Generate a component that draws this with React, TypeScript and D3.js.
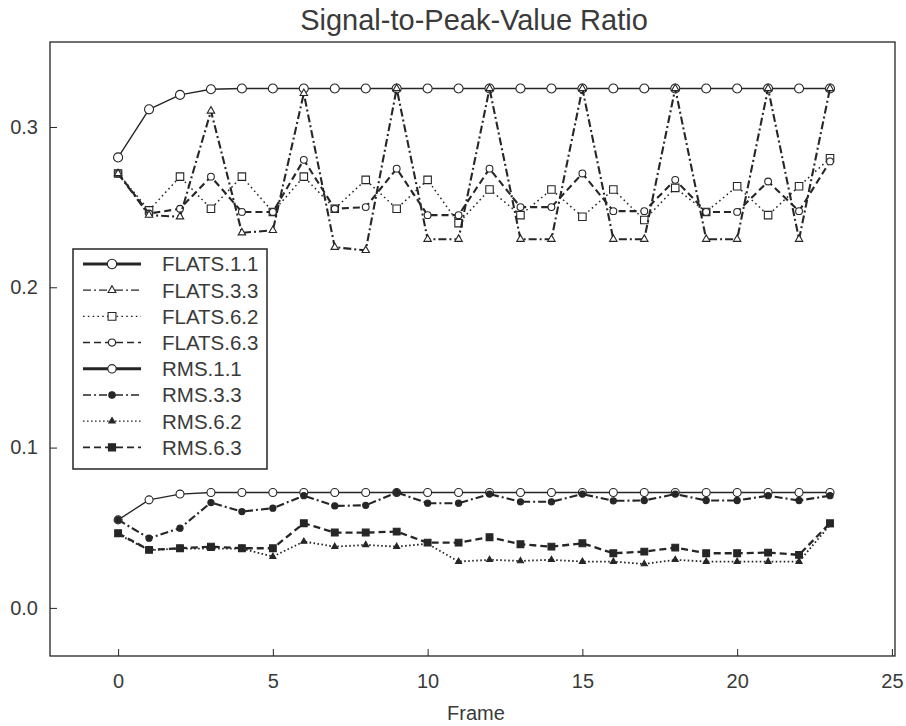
import React, { useRef, useEffect } from "react";
import * as d3 from "d3";

// values
const frames = [0, 1, 2, 3, 4, 5, 6, 7, 8, 9, 10, 11, 12, 13, 14, 15, 16, 17, 18, 19, 20, 21, 22, 23];

const flats11 = [0.281, 0.311, 0.32, 0.3235, 0.324, 0.324, 0.324, 0.324, 0.324, 0.324, 0.324, 0.324, 0.324, 0.324, 0.324, 0.324, 0.324, 0.324, 0.324, 0.324, 0.324, 0.324, 0.324, 0.324];
const flats33 = [0.271, 0.245, 0.244, 0.31, 0.234, 0.2355, 0.321, 0.225, 0.223, 0.324, 0.23, 0.23, 0.324, 0.23, 0.23, 0.324, 0.23, 0.23, 0.324, 0.23, 0.23, 0.324, 0.23, 0.324];
const flats62 = [0.271, 0.248, 0.269, 0.249, 0.269, 0.247, 0.269, 0.249, 0.267, 0.249, 0.267, 0.24, 0.261, 0.245, 0.261, 0.244, 0.261, 0.242, 0.262, 0.247, 0.263, 0.245, 0.263, 0.2805];
const flats63 = [0.271, 0.246, 0.249, 0.269, 0.247, 0.247, 0.2795, 0.249, 0.25, 0.274, 0.245, 0.245, 0.274, 0.25, 0.25, 0.271, 0.2475, 0.2475, 0.267, 0.247, 0.247, 0.266, 0.2475, 0.2785];

const rms11 = [0.0549, 0.0674, 0.071, 0.072, 0.072, 0.072, 0.072, 0.072, 0.072, 0.072, 0.072, 0.072, 0.072, 0.072, 0.072, 0.072, 0.072, 0.072, 0.072, 0.072, 0.072, 0.072, 0.072, 0.072];
const rms33 = [0.0549, 0.0435, 0.0497, 0.0657, 0.0601, 0.0622, 0.07, 0.0636, 0.064, 0.072, 0.0653, 0.0653, 0.071, 0.0662, 0.0662, 0.071, 0.0668, 0.067, 0.071, 0.067, 0.067, 0.07, 0.067, 0.07];
const rms62 = [0.046, 0.036, 0.037, 0.037, 0.037, 0.032, 0.0414, 0.0382, 0.0393, 0.0382, 0.04, 0.0289, 0.03, 0.0293, 0.03, 0.0289, 0.0289, 0.0274, 0.03, 0.0289, 0.0289, 0.0289, 0.0289, 0.0518];
const rms63 = [0.0466, 0.0362, 0.0372, 0.0382, 0.0372, 0.0372, 0.0528, 0.047, 0.047, 0.0476, 0.0407, 0.0407, 0.0441, 0.0397, 0.0382, 0.0403, 0.0341, 0.0351, 0.0376, 0.0341, 0.0341, 0.0345, 0.0331, 0.0528];

const seriesNames = ["FLATS.1.1", "FLATS.3.3", "FLATS.6.2", "FLATS.6.3", "RMS.1.1", "RMS.3.3", "RMS.6.2", "RMS.6.3"];
const seriesValues = [flats11, flats33, flats62, flats63, rms11, rms33, rms62, rms63];

const xTicks = [0, 5, 10, 15, 20, 25];
const yTicks = [0.0, 0.1, 0.2, 0.3];

const INK = "#262626";
const TEXT = "#3a3a3a";
const FONT = "'Liberation Sans', Arial, Helvetica, sans-serif";

// line / marker look for each series (same order as seriesNames)
const looks = [
  { dash: null, width: 1.4, legendWidth: 3, shape: d3.symbolCircle, size: 64, fill: "#fff" },
  { dash: "8,3,2,3", width: 2.1, legendWidth: 1.3, shape: d3.symbolTriangle, size: 24, fill: "#fff" },
  { dash: "1.6,3.2", width: 1.5, legendWidth: 1.2, shape: d3.symbolSquare, size: 56, fill: "#fff" },
  { dash: "7,4", width: 2.1, legendWidth: 1.5, shape: d3.symbolCircle, size: 36, fill: "#fff" },
  { dash: null, width: 1.3, legendWidth: 3, shape: d3.symbolCircle, size: 50, fill: "#fff" },
  { dash: "8,3,2,3", width: 2.1, legendWidth: 1.3, shape: d3.symbolCircle, size: 30, fill: INK },
  { dash: "1.6,2.4", width: 1.8, legendWidth: 1.2, shape: d3.symbolTriangle, size: 16, fill: INK },
  { dash: "7,4", width: 2.3, legendWidth: 1.6, shape: d3.symbolSquare, size: 46, fill: INK },
];

// drawing order: the solid reference lines first, the rest on top
const drawOrder = [0, 2, 3, 1, 4, 6, 7, 5];

export default function App() {
  const svgRef = useRef(null);

  useEffect(() => {
    const svg = d3.select(svgRef.current);
    svg.selectAll("*").remove();

    const x = d3.scaleLinear().domain([-2.2, 25.1]).range([50, 895]);
    const y = d3.scaleLinear().domain([-0.03, 0.353]).range([656, 42]);

    svg.append("rect").attr("width", 906).attr("height", 726).attr("fill", "#fff");

    // title
    svg.append("text")
      .attr("x", 474).attr("y", 30)
      .attr("text-anchor", "middle")
      .attr("font-family", FONT).attr("font-size", 29)
      .attr("fill", TEXT)
      .text("Signal-to-Peak-Value Ratio");

    // axes (ticks point inward)
    const gx = svg.append("g")
      .attr("transform", "translate(0,656)")
      .call(d3.axisBottom(x).tickValues(xTicks).tickSize(-7).tickPadding(18).tickFormat(d3.format("d")));
    const gy = svg.append("g")
      .attr("transform", "translate(50,0)")
      .call(d3.axisLeft(y).tickValues(yTicks).tickSize(-7).tickPadding(12).tickFormat(d3.format(".1f")));
    [gx, gy].forEach(g => {
      g.select(".domain").remove();
      g.selectAll(".tick line").attr("stroke", INK).attr("stroke-width", 1);
      g.selectAll(".tick text")
        .attr("fill", TEXT)
        .style("font-family", FONT)
        .style("font-size", "20px");
    });

    svg.append("text")
      .attr("x", 476).attr("y", 720)
      .attr("text-anchor", "middle")
      .attr("font-family", FONT).attr("font-size", 20)
      .attr("fill", TEXT)
      .text("Frame");

    // frame
    svg.append("rect")
      .attr("x", 50).attr("y", 42)
      .attr("width", 845).attr("height", 614)
      .attr("fill", "none").attr("stroke", INK).attr("stroke-width", 1.3);

    const line = d3.line().x(d => x(d[0])).y(d => y(d[1]));

    drawOrder.forEach(i => {
      const look = looks[i];
      const pts = frames.map((f, k) => [f, seriesValues[i][k]]);
      svg.append("path")
        .attr("d", line(pts))
        .attr("fill", "none")
        .attr("stroke", INK)
        .attr("stroke-width", look.width)
        .attr("stroke-dasharray", look.dash)
        .attr("stroke-linejoin", "round");
      svg.selectAll(".m" + i)
        .data(pts)
        .join("path")
        .attr("class", "m" + i)
        .attr("d", d3.symbol().type(look.shape).size(look.size)())
        .attr("transform", d => `translate(${x(d[0])},${y(d[1])})`)
        .attr("fill", look.fill)
        .attr("stroke", INK)
        .attr("stroke-width", 1.1);
    });

    // legend
    const lg = svg.append("g");
    lg.append("rect")
      .attr("x", 73).attr("y", 249)
      .attr("width", 194).attr("height", 220)
      .attr("fill", "#fff").attr("stroke", INK).attr("stroke-width", 1.5);
    seriesNames.forEach((name, i) => {
      const look = looks[i];
      const ly = 264 + i * 26.2;
      lg.append("line")
        .attr("x1", 83).attr("x2", 141).attr("y1", ly).attr("y2", ly)
        .attr("stroke", INK)
        .attr("stroke-width", look.legendWidth)
        .attr("stroke-dasharray", look.dash);
      lg.append("path")
        .attr("d", d3.symbol().type(look.shape).size(look.size * 1.1)())
        .attr("transform", `translate(112,${ly})`)
        .attr("fill", look.fill)
        .attr("stroke", INK)
        .attr("stroke-width", 1.1);
      lg.append("text")
        .attr("x", 162).attr("y", ly)
        .attr("dy", "0.36em")
        .attr("font-family", FONT).attr("font-size", 20.5)
        .attr("fill", TEXT)
        .text(name);
    });
  }, []);

  return (
    <svg
      ref={svgRef}
      width={906}
      height={726}
      style={{ position: "absolute", left: 0, top: 0, display: "block" }}
    />
  );
}
